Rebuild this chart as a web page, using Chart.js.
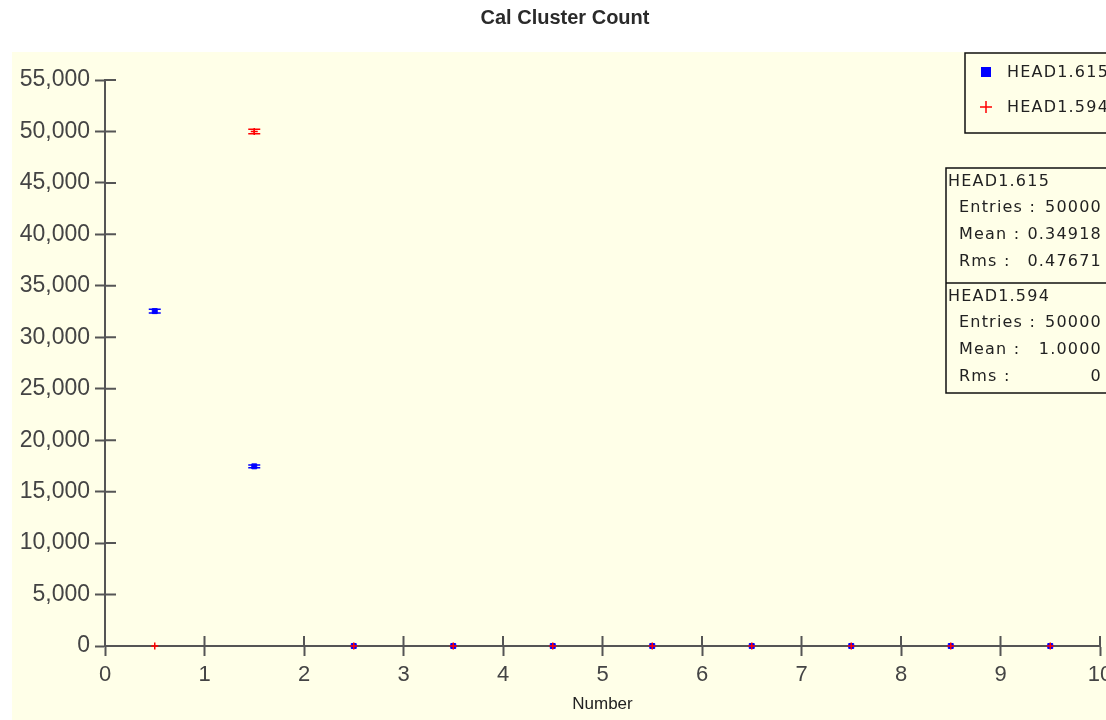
<!DOCTYPE html>
<html>
<head>
<meta charset="utf-8">
<script src="https://cdn.jsdelivr.net/npm/chart.js@4/dist/chart.umd.min.js"></script>
<style>
  html, body { margin: 0; padding: 0; background: #fff; overflow: hidden; }
  #wrap { width: 1130px; height: 720px; }
</style>
</head>
<body>
<div id="wrap"><canvas id="chart" width="1130" height="720"></canvas></div>
<script>
// histogram bins (centers) and contents
const binCenters = [0.5, 1.5, 2.5, 3.5, 4.5, 5.5, 6.5, 7.5, 8.5, 9.5];
const head1615 = [32541, 17459, 0, 0, 0, 0, 0, 0, 0, 0];
const head1615Err = [180, 132, 0, 0, 0, 0, 0, 0, 0, 0];
const head1594 = [0, 50000, 0, 0, 0, 0, 0, 0, 0, 0];
const head1594Err = [0, 224, 0, 0, 0, 0, 0, 0, 0, 0];

const seriesNames = ['HEAD1.615', 'HEAD1.594'];
const statEntries = ['50000', '50000'];
const statMeans = ['0.34918', '1.0000'];
const statRms = ['0.47671', '0'];

const BG = '#ffffe8';
const AXIS = '#555';
const FONT = "'Liberation Sans', Arial, sans-serif";
const BOX_FONT = "16px 'DejaVu Sans', Verdana, sans-serif";

function toPoints(vals) {
    return binCenters.map((x, i) => ({ x: x, y: vals[i] }));
}

// yellow plot panel behind everything
const panelBg = {
    id: 'panelBg',
    beforeDraw(chart) {
        const ctx = chart.ctx;
        ctx.save();
        ctx.fillStyle = BG;
        ctx.fillRect(12, 52, chart.width - 12, chart.height - 52);
        ctx.restore();
    }
};

// centre the title over the whole canvas rather than the padded area
const titleSpan = {
    id: 'titleSpan',
    afterLayout(chart) {
        if (chart.titleBlock) {
            chart.titleBlock.left = 0;
            chart.titleBlock.right = chart.width;
        }
    }
};

// tick marks crossing the axes (inner half)
const innerTicks = {
    id: 'innerTicks',
    afterDraw(chart) {
        const ctx = chart.ctx;
        const xs = chart.scales.x, ys = chart.scales.y;
        ctx.save();
        ctx.strokeStyle = AXIS;
        ctx.lineWidth = 2;
        ctx.beginPath();
        xs.ticks.forEach(t => {
            const px = xs.getPixelForValue(t.value);
            ctx.moveTo(px, ys.bottom);
            ctx.lineTo(px, ys.bottom - 10);
        });
        ys.ticks.forEach(t => {
            const py = ys.getPixelForValue(t.value);
            ctx.moveTo(xs.left, py);
            ctx.lineTo(xs.left + 11, py);
        });
        ctx.stroke();
        ctx.restore();
    }
};

// sqrt(N)-style error bars with caps
const errorBars = {
    id: 'errorBars',
    afterDatasetsDraw(chart) {
        const ctx = chart.ctx;
        const ys = chart.scales.y;
        ctx.save();
        chart.data.datasets.forEach((ds, di) => {
            const meta = chart.getDatasetMeta(di);
            ctx.strokeStyle = ds.borderColor;
            ctx.lineWidth = 1.5;
            meta.data.forEach((pt, i) => {
                const e = ds.errors[i];
                if (!e) return;
                const v = ds.data[i].y;
                const top = ys.getPixelForValue(v + e);
                const bot = ys.getPixelForValue(v - e);
                ctx.beginPath();
                ctx.moveTo(pt.x, top); ctx.lineTo(pt.x, bot);
                ctx.moveTo(pt.x - 6, top); ctx.lineTo(pt.x + 6, top);
                ctx.moveTo(pt.x - 6, bot); ctx.lineTo(pt.x + 6, bot);
                ctx.stroke();
            });
        });
        ctx.restore();
    }
};

// legend box and statistics boxes (top right, running off the edge)
const infoBoxes = {
    id: 'infoBoxes',
    afterDraw(chart) {
        const ctx = chart.ctx;
        const right = chart.width + 5;
        const ds = chart.data.datasets;
        ctx.save();

        // legend
        ctx.fillStyle = BG;
        ctx.fillRect(965, 53, right - 965, 80);
        ctx.strokeStyle = '#111';
        ctx.lineWidth = 1.5;
        ctx.strokeRect(965, 53, right - 965, 80);
        ctx.fillStyle = ds[0].backgroundColor;
        ctx.fillRect(981, 67, 10, 10);
        ctx.strokeStyle = ds[1].borderColor;
        ctx.lineWidth = 1.5;
        ctx.beginPath();
        ctx.moveTo(980, 107); ctx.lineTo(992, 107);
        ctx.moveTo(986, 101); ctx.lineTo(986, 113);
        ctx.stroke();
        ctx.font = BOX_FONT;
        ctx.letterSpacing = '1.2px';
        ctx.fillStyle = '#222';
        ctx.textBaseline = 'middle';
        ctx.textAlign = 'left';
        ctx.fillText(seriesNames[0], 1007, 73);
        ctx.fillText(seriesNames[1], 1007, 108);

        // stats
        const boxTops = [168, 283];
        ctx.fillStyle = BG;
        ctx.fillRect(946, 168, right - 946, 225);
        ctx.strokeStyle = '#111';
        ctx.lineWidth = 1.5;
        ctx.strokeRect(946, 168, right - 946, 225);
        ctx.beginPath();
        ctx.moveTo(946, 283); ctx.lineTo(right, 283);
        ctx.stroke();
        ctx.fillStyle = '#222';
        seriesNames.forEach((name, i) => {
            const y0 = boxTops[i];
            ctx.textAlign = 'left';
            ctx.fillText(name, 948, y0 + 14);
            ctx.fillText('Entries :', 959, y0 + 40);
            ctx.fillText('Mean :', 959, y0 + 67);
            ctx.fillText('Rms :', 959, y0 + 94);
            ctx.textAlign = 'right';
            ctx.fillText(statEntries[i], 1102, y0 + 40);
            ctx.fillText(statMeans[i], 1102, y0 + 67);
            ctx.fillText(statRms[i], 1102, y0 + 94);
        });
        ctx.restore();
    }
};

const ctx = document.getElementById('chart').getContext('2d');
new Chart(ctx, {
    type: 'scatter',
    data: {
        datasets: [
            {
                label: seriesNames[0],
                data: toPoints(head1615),
                errors: head1615Err,
                pointStyle: 'rect',
                pointRadius: 3.5,
                backgroundColor: '#0000ff',
                borderColor: '#0000ff',
                borderWidth: 1,
                order: 1
            },
            {
                label: seriesNames[1],
                data: toPoints(head1594),
                errors: head1594Err,
                pointStyle: 'cross',
                pointRadius: 3.5,
                backgroundColor: '#ff0000',
                borderColor: '#ff0000',
                borderWidth: 1.5,
                order: 0
            }
        ]
    },
    options: {
        responsive: false,
        animation: false,
        clip: false,
        layout: { padding: { left: 0, right: 30, top: 0, bottom: 0 } },
        plugins: {
            legend: { display: false },
            tooltip: { enabled: false },
            title: {
                display: true,
                text: 'Cal Cluster Count',
                color: '#2a2a2a',
                font: { family: FONT, size: 20, weight: 'bold' },
                padding: { top: 6, bottom: 50 }
            }
        },
        scales: {
            x: {
                type: 'linear',
                min: 0,
                max: 10,
                afterFit(scale) { scale.height = 74; },
                ticks: {
                    stepSize: 1,
                    color: '#444',
                    padding: 6,
                    maxRotation: 0,
                    font: { family: FONT, size: 22 }
                },
                grid: {
                    drawOnChartArea: false,
                    drawTicks: true,
                    tickLength: 10,
                    tickColor: AXIS,
                    tickWidth: 2
                },
                border: { color: AXIS, width: 2 },
                title: {
                    display: true,
                    text: 'Number',
                    color: '#222',
                    font: { family: FONT, size: 17 },
                    padding: { top: 0, bottom: 5 }
                }
            },
            y: {
                type: 'linear',
                min: 0,
                max: 55000,
                afterFit(scale) { scale.width = 105; },
                ticks: {
                    stepSize: 5000,
                    color: '#444',
                    padding: 5,
                    font: { family: FONT, size: 23 },
                    callback: v => v.toLocaleString('en-US')
                },
                grid: {
                    drawOnChartArea: false,
                    drawTicks: true,
                    tickLength: 10,
                    tickColor: AXIS,
                    tickWidth: 2
                },
                border: { color: AXIS, width: 2 }
            }
        }
    },
    plugins: [panelBg, titleSpan, errorBars, innerTicks, infoBoxes]
});
</script>
</body>
</html>
